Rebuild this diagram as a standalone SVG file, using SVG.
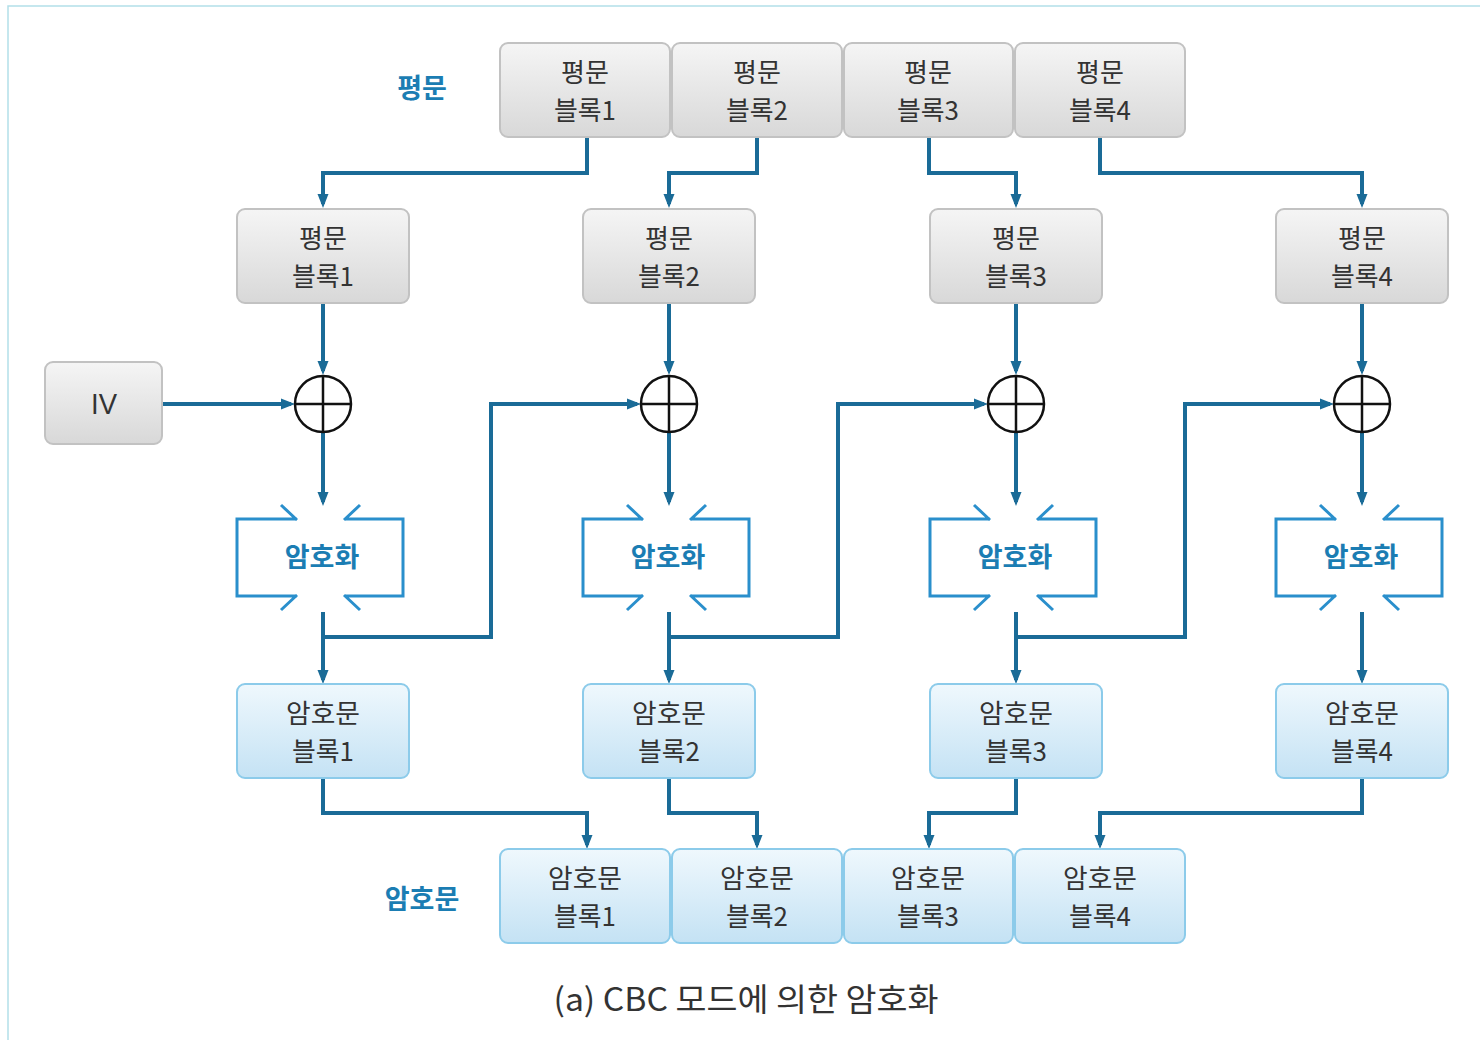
<svg xmlns="http://www.w3.org/2000/svg" width="1480" height="1040" viewBox="0 0 1480 1040">
<defs>
<linearGradient id="gGray" x1="0" y1="0" x2="0" y2="1">
<stop offset="0" stop-color="#f5f5f5"/>
<stop offset="1" stop-color="#d8d8d8"/>
</linearGradient>
<linearGradient id="gBlue" x1="0" y1="0" x2="0" y2="1">
<stop offset="0" stop-color="#eff8fd"/>
<stop offset="1" stop-color="#c4e2f4"/>
</linearGradient>
<marker id="arr" markerUnits="userSpaceOnUse" markerWidth="14" markerHeight="14" viewBox="0 0 14 14" refX="10" refY="7" orient="auto">
<path d="M0,1.5 L14,7 L0,12.5 z" fill="#1a6b97"/>
</marker>
<style>
.gray{fill:url(#gGray);stroke:#c2c2c2;stroke-width:2}
.blue{fill:url(#gBlue);stroke:#8ccbea;stroke-width:2}
.t{font-family:"Noto Sans CJK KR","Noto Sans",sans-serif;font-size:26px;fill:#333;text-anchor:middle}
.lbl{font-family:"Noto Sans CJK KR","Noto Sans",sans-serif;font-size:27px;font-weight:bold;fill:#1b7db3;text-anchor:middle}
.enc{fill:none;stroke:#2a8fcc;stroke-width:3}
.c{fill:none;stroke:#1a6b97;stroke-width:4}
.x{fill:none;stroke:#111;stroke-width:2.5}
</style>
</defs>
<rect width="1480" height="1040" fill="#fff"/>
<path d="M8,1040 V6 H1480" fill="none" stroke="#b3dfe9" stroke-width="1.5"/>

<text class="lbl" x="422" y="98">평문</text>
<text class="lbl" x="422" y="909">암호문</text>

<g id="connectors">
<path class="c" marker-end="url(#arr)" d="M587,137 V173 H323 V204"/>
<path class="c" marker-end="url(#arr)" d="M757,137 V173 H669 V204"/>
<path class="c" marker-end="url(#arr)" d="M929,137 V173 H1016 V204"/>
<path class="c" marker-end="url(#arr)" d="M1100,137 V173 H1362 V204"/>
<path class="c" marker-end="url(#arr)" d="M323,303 V371"/>
<path class="c" marker-end="url(#arr)" d="M669,303 V371"/>
<path class="c" marker-end="url(#arr)" d="M1016,303 V371"/>
<path class="c" marker-end="url(#arr)" d="M1362,303 V371"/>
<path class="c" marker-end="url(#arr)" d="M162,404 H291"/>
<path class="c" marker-end="url(#arr)" d="M323,432 V502"/>
<path class="c" marker-end="url(#arr)" d="M669,432 V502"/>
<path class="c" marker-end="url(#arr)" d="M1016,432 V502"/>
<path class="c" marker-end="url(#arr)" d="M1362,432 V502"/>
<path class="c" marker-end="url(#arr)" d="M323,612 V680"/>
<path class="c" marker-end="url(#arr)" d="M669,612 V680"/>
<path class="c" marker-end="url(#arr)" d="M1016,612 V680"/>
<path class="c" marker-end="url(#arr)" d="M1362,612 V680"/>
<path class="c" marker-end="url(#arr)" d="M323,637 H491 V404 H637"/>
<path class="c" marker-end="url(#arr)" d="M669,637 H838 V404 H984"/>
<path class="c" marker-end="url(#arr)" d="M1016,637 H1185 V404 H1330"/>
<path class="c" marker-end="url(#arr)" d="M323,778 V813 H587 V845"/>
<path class="c" marker-end="url(#arr)" d="M669,778 V813 H757 V845"/>
<path class="c" marker-end="url(#arr)" d="M1016,778 V813 H929 V845"/>
<path class="c" marker-end="url(#arr)" d="M1362,778 V813 H1100 V845"/>
</g>

<g id="p1"><rect class="gray" x="500" y="43" width="170" height="94" rx="8"/><text class="t" x="585" y="82">평문</text><text class="t" x="585" y="120" textLength="62" lengthAdjust="spacingAndGlyphs">블록1</text></g>
<g id="p2"><rect class="gray" x="672" y="43" width="170" height="94" rx="8"/><text class="t" x="757" y="82">평문</text><text class="t" x="757" y="120" textLength="62" lengthAdjust="spacingAndGlyphs">블록2</text></g>
<g id="p3"><rect class="gray" x="844" y="43" width="169" height="94" rx="8"/><text class="t" x="928" y="82">평문</text><text class="t" x="928" y="120" textLength="62" lengthAdjust="spacingAndGlyphs">블록3</text></g>
<g id="p4"><rect class="gray" x="1015" y="43" width="170" height="94" rx="8"/><text class="t" x="1100" y="82">평문</text><text class="t" x="1100" y="120" textLength="62" lengthAdjust="spacingAndGlyphs">블록4</text></g>

<g id="q1"><rect class="gray" x="237" y="209" width="172" height="94" rx="8"/><text class="t" x="323" y="248">평문</text><text class="t" x="323" y="286" textLength="62" lengthAdjust="spacingAndGlyphs">블록1</text></g>
<g id="q2"><rect class="gray" x="583" y="209" width="172" height="94" rx="8"/><text class="t" x="669" y="248">평문</text><text class="t" x="669" y="286" textLength="62" lengthAdjust="spacingAndGlyphs">블록2</text></g>
<g id="q3"><rect class="gray" x="930" y="209" width="172" height="94" rx="8"/><text class="t" x="1016" y="248">평문</text><text class="t" x="1016" y="286" textLength="62" lengthAdjust="spacingAndGlyphs">블록3</text></g>
<g id="q4"><rect class="gray" x="1276" y="209" width="172" height="94" rx="8"/><text class="t" x="1362" y="248">평문</text><text class="t" x="1362" y="286" textLength="62" lengthAdjust="spacingAndGlyphs">블록4</text></g>

<g id="iv"><rect class="gray" x="45" y="362" width="117" height="82" rx="8"/><text class="t" x="104" y="414" style="font-family:'Liberation Sans',sans-serif;font-size:30px" textLength="26" lengthAdjust="spacingAndGlyphs">IV</text></g>

<g id="x1"><circle class="x" cx="323" cy="404" r="28"/><path class="x" d="M295,404 H351 M323,376 V432"/></g>
<g id="x2"><circle class="x" cx="669" cy="404" r="28"/><path class="x" d="M641,404 H697 M669,376 V432"/></g>
<g id="x3"><circle class="x" cx="1016" cy="404" r="28"/><path class="x" d="M988,404 H1044 M1016,376 V432"/></g>
<g id="x4"><circle class="x" cx="1362" cy="404" r="28"/><path class="x" d="M1334,404 H1390 M1362,376 V432"/></g>

<g id="e1" transform="translate(323,0)"><path class="enc" d="M-26,519 H-86 V596 H-26 M-42,505 L-26,520 M-42,610 L-26,595 M22,519 H80 V596 H22 M37,505 L21,520 M37,610 L21,595"/><text class="lbl" x="-1" y="567">암호화</text></g>
<g id="e2" transform="translate(669,0)"><path class="enc" d="M-26,519 H-86 V596 H-26 M-42,505 L-26,520 M-42,610 L-26,595 M22,519 H80 V596 H22 M37,505 L21,520 M37,610 L21,595"/><text class="lbl" x="-1" y="567">암호화</text></g>
<g id="e3" transform="translate(1016,0)"><path class="enc" d="M-26,519 H-86 V596 H-26 M-42,505 L-26,520 M-42,610 L-26,595 M22,519 H80 V596 H22 M37,505 L21,520 M37,610 L21,595"/><text class="lbl" x="-1" y="567">암호화</text></g>
<g id="e4" transform="translate(1362,0)"><path class="enc" d="M-26,519 H-86 V596 H-26 M-42,505 L-26,520 M-42,610 L-26,595 M22,519 H80 V596 H22 M37,505 L21,520 M37,610 L21,595"/><text class="lbl" x="-1" y="567">암호화</text></g>

<g id="r1"><rect class="blue" x="237" y="684" width="172" height="94" rx="8"/><text class="t" x="323" y="723" textLength="74" lengthAdjust="spacingAndGlyphs">암호문</text><text class="t" x="323" y="761" textLength="62" lengthAdjust="spacingAndGlyphs">블록1</text></g>
<g id="r2"><rect class="blue" x="583" y="684" width="172" height="94" rx="8"/><text class="t" x="669" y="723" textLength="74" lengthAdjust="spacingAndGlyphs">암호문</text><text class="t" x="669" y="761" textLength="62" lengthAdjust="spacingAndGlyphs">블록2</text></g>
<g id="r3"><rect class="blue" x="930" y="684" width="172" height="94" rx="8"/><text class="t" x="1016" y="723" textLength="74" lengthAdjust="spacingAndGlyphs">암호문</text><text class="t" x="1016" y="761" textLength="62" lengthAdjust="spacingAndGlyphs">블록3</text></g>
<g id="r4"><rect class="blue" x="1276" y="684" width="172" height="94" rx="8"/><text class="t" x="1362" y="723" textLength="74" lengthAdjust="spacingAndGlyphs">암호문</text><text class="t" x="1362" y="761" textLength="62" lengthAdjust="spacingAndGlyphs">블록4</text></g>

<g id="s1"><rect class="blue" x="500" y="849" width="170" height="94" rx="8"/><text class="t" x="585" y="888" textLength="74" lengthAdjust="spacingAndGlyphs">암호문</text><text class="t" x="585" y="926" textLength="62" lengthAdjust="spacingAndGlyphs">블록1</text></g>
<g id="s2"><rect class="blue" x="672" y="849" width="170" height="94" rx="8"/><text class="t" x="757" y="888" textLength="74" lengthAdjust="spacingAndGlyphs">암호문</text><text class="t" x="757" y="926" textLength="62" lengthAdjust="spacingAndGlyphs">블록2</text></g>
<g id="s3"><rect class="blue" x="844" y="849" width="169" height="94" rx="8"/><text class="t" x="928" y="888" textLength="74" lengthAdjust="spacingAndGlyphs">암호문</text><text class="t" x="928" y="926" textLength="62" lengthAdjust="spacingAndGlyphs">블록3</text></g>
<g id="s4"><rect class="blue" x="1015" y="849" width="170" height="94" rx="8"/><text class="t" x="1100" y="888" textLength="74" lengthAdjust="spacingAndGlyphs">암호문</text><text class="t" x="1100" y="926" textLength="62" lengthAdjust="spacingAndGlyphs">블록4</text></g>

<text class="t" x="746" y="1011" style="font-size:32px" textLength="385" lengthAdjust="spacingAndGlyphs">(a) CBC 모드에 의한 암호화</text>
</svg>
